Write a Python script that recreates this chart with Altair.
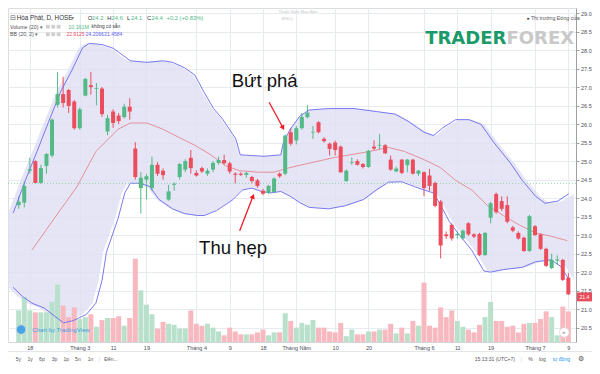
import altair as alt
import pandas as pd

W, H = 568, 334
SX, SY = W / 584.0, H / 349.0


def px(v):
    return round(v * SX, 1)


def py(v):
    return round(v * SY, 1)


GREEN = "#53b987"
RED = "#eb4d5c"
BLUE = "#5b5bf0"
ARROW = "#ee1c25"
FONT = "Liberation Sans"

# ---------------- candles (daily, HPG) ----------------
opens = [23.81, 23.88, 24.74, 25.00, 24.41, 24.87, 25.15, 26.52, 26.81, 26.92,
         26.61, 25.89, 26.77, 27.05, 26.95, 26.96, 25.80, 26.34, 26.23, 26.19,
         26.47, 25.34, 24.27, 24.50, 24.27, 24.90, 24.74, 23.96, 24.36, 24.57,
         24.77, 25.09, 24.68, 24.81, 24.66, 24.77, 24.95, 25.03, 24.94, 24.66,
         24.66, 24.63, 24.57, 24.48, 24.20, 24.14, 24.16, 24.66, 24.66, 25.78,
         25.56, 25.89, 26.19, 25.77, 26.05, 25.60, 25.47, 25.50, 25.39, 24.46,
         24.95, 25.00, 24.92, 24.84, 25.39, 25.42, 25.43, 25.04, 24.72, 25.04,
         24.89, 25.04, 24.66, 24.70, 24.61, 24.41, 23.91, 23.02, 23.28, 23.00,
         22.91, 23.32, 23.02, 23.03, 22.46, 23.47, 24.11, 23.92, 23.81, 23.21,
         23.06, 22.93, 22.57, 23.24, 23.02, 22.63, 22.11, 22.31, 22.33, 21.85]
highs = [24.05, 24.45, 25.09, 25.02, 24.90, 25.22, 26.15, 27.41, 27.28, 26.95,
         26.65, 26.45, 27.25, 27.41, 27.11, 27.00, 26.25, 26.40, 26.30, 26.55,
         26.70, 25.51, 24.70, 24.65, 25.12, 24.97, 24.80, 24.36, 24.42, 24.95,
         25.05, 25.30, 24.75, 24.85, 24.80, 25.00, 25.12, 25.17, 24.98, 24.70,
         24.70, 24.72, 24.60, 24.52, 24.25, 24.36, 24.56, 24.70, 25.72, 25.90,
         25.95, 26.30, 26.51, 25.95, 26.08, 25.65, 25.50, 25.55, 25.42, 24.78,
         25.10, 25.05, 24.95, 25.30, 25.56, 25.73, 25.46, 25.15, 24.85, 25.06,
         25.06, 25.06, 24.76, 24.72, 24.79, 24.45, 23.95, 23.10, 23.32, 23.10,
         23.15, 23.35, 23.05, 23.06, 23.08, 23.90, 24.15, 24.05, 24.05, 23.25,
         23.10, 22.96, 23.55, 23.27, 23.05, 22.66, 22.50, 22.45, 22.36, 21.98]
lows = [23.71, 23.75, 24.66, 24.40, 24.38, 24.66, 25.10, 26.45, 26.45, 26.30,
        25.85, 25.85, 26.75, 26.80, 26.51, 26.20, 25.70, 25.90, 26.00, 26.15,
        26.12, 24.50, 23.58, 23.96, 24.20, 24.60, 24.50, 23.93, 24.20, 24.50,
        24.70, 24.66, 24.58, 24.68, 24.60, 24.70, 24.90, 24.90, 24.66, 24.40,
        24.60, 24.55, 24.40, 24.28, 24.08, 24.12, 24.14, 24.55, 24.62, 25.42,
        25.45, 25.85, 26.15, 25.60, 25.75, 25.50, 25.15, 25.15, 24.68, 24.44,
        24.90, 24.88, 24.80, 24.82, 25.30, 25.32, 25.20, 24.74, 24.70, 24.65,
        24.70, 24.64, 24.60, 24.05, 24.20, 23.75, 22.37, 22.90, 22.85, 22.90,
        22.88, 22.98, 22.92, 22.44, 22.44, 23.32, 23.58, 23.65, 23.32, 23.08,
        22.88, 22.55, 22.55, 22.98, 22.60, 22.14, 22.08, 22.20, 21.76, 21.38]
closes = [23.90, 24.33, 24.78, 24.41, 24.81, 25.19, 26.12, 26.81, 26.57, 26.49,
          25.89, 26.40, 27.22, 27.00, 26.97, 26.27, 26.16, 26.03, 26.08, 26.47,
          26.34, 24.57, 24.55, 24.59, 24.90, 24.66, 24.62, 24.18, 24.39, 24.92,
          25.00, 24.81, 24.61, 24.72, 24.74, 24.95, 25.03, 24.94, 24.72, 24.63,
          24.63, 24.68, 24.46, 24.33, 24.12, 24.33, 24.53, 24.59, 25.69, 25.47,
          25.89, 26.19, 26.31, 25.79, 25.78, 25.54, 25.33, 25.30, 24.70, 24.74,
          24.97, 24.90, 24.84, 25.28, 25.34, 25.44, 25.21, 24.77, 24.80, 24.68,
          25.04, 24.66, 24.74, 24.27, 24.33, 23.79, 22.72, 22.97, 22.91, 23.03,
          23.12, 23.02, 22.96, 22.46, 23.06, 23.86, 23.62, 23.71, 23.36, 23.12,
          22.91, 22.57, 23.51, 23.00, 22.63, 22.17, 22.33, 22.34, 21.79, 21.40]
volumes = [3.78, 5.39, 3.78, 3.55, 3.55, 3.55, 4.81, 6.88, 4.36, 2.98,
           4.13, 2.75, 2.98, 3.32, 1.83, 2.64, 2.87, 2.87, 3.09, 1.95,
           2.87, 9.97, 6.19, 4.47, 3.32, 1.60, 2.41, 2.18, 2.06, 1.60,
           1.60, 3.78, 2.18, 1.95, 2.18, 1.72, 1.26, 0.80, 1.72, 1.26,
           0.92, 0.92, 0.92, 1.15, 1.49, 0.80, 1.15, 1.15, 3.44, 2.52,
           1.72, 2.29, 2.06, 2.64, 1.72, 1.72, 1.26, 1.15, 2.29, 0.69,
           1.49, 0.92, 0.92, 1.26, 1.26, 1.49, 1.49, 2.18, 1.03, 1.72,
           1.03, 2.52, 1.95, 7.11, 1.95, 1.72, 4.13, 2.98, 3.78, 2.52,
           1.83, 1.49, 1.15, 2.06, 2.98, 4.81, 2.52, 2.52, 1.83, 1.95,
           1.15, 2.18, 2.29, 2.29, 2.75, 3.67, 2.98, 0.80, 4.24, 3.67]

# ---------------- Bollinger bands (20, 2) ----------------
up_x = [-1.0, -0.5, 1.2, 3.3, 5.3, 7.6, 9.6, 11.5, 12.7, 15.0, 17.0, 18.4, 20.1,
        23.1, 26.0, 27.7, 29.9, 31.7, 33.4, 35.1, 36.8, 39.1, 39.9, 44.2, 47.2,
        47.7, 48.9, 50.6, 52.3, 55.8, 60.4, 64.4, 67.8, 70.1, 73.0, 74.7, 76.4,
        78.7, 81.1, 83.3, 85.5, 88.5, 90.7, 93.1, 94.8, 97.1, 99.1]
upper = [23.60, 23.79, 24.48, 25.26, 26.03, 26.89, 27.46, 28.06, 28.18, 28.15,
         28.05, 27.90, 27.71, 27.67, 27.71, 27.67, 27.52, 27.33, 26.86, 26.42,
         26.12, 25.60, 25.17, 25.13, 25.17, 25.52, 25.86, 26.21, 26.38, 26.42,
         26.42, 26.34, 26.27, 26.08, 25.78, 25.69, 25.90, 26.12, 26.12, 25.99,
         25.52, 24.96, 24.48, 24.05, 23.86, 23.92, 24.12]
lo_x = [-1.0, 0.7, 2.4, 4.6, 6.4, 8.1, 9.8, 12.2, 13.9, 15.0, 15.8, 17.9, 19.1,
        20.1, 21.9, 23.6, 25.3, 27.7, 29.9, 32.2, 33.4, 35.6, 38.6, 40.3, 42.0,
        43.7, 45.4, 47.2, 48.9, 50.6, 52.3, 55.8, 58.7, 62.1, 64.4, 66.6, 69.0,
        71.3, 73.0, 74.7, 75.9, 77.6, 79.3, 81.6, 83.8, 85.0, 87.3, 90.7, 93.1,
        95.9, 97.6, 99.1]
lower = [21.59, 21.34, 21.16, 21.03, 20.82, 20.63, 20.69, 20.86, 21.16, 21.77,
         22.54, 23.45, 24.14, 24.40, 24.40, 24.31, 23.96, 23.71, 23.58, 23.53,
         23.53, 23.66, 23.96, 24.22, 24.27, 24.18, 24.14, 24.18, 24.05, 23.88,
         23.75, 23.71, 23.79, 23.96, 24.22, 24.43, 24.44, 24.31, 24.22, 24.14,
         23.84, 23.36, 23.02, 22.59, 22.03, 22.00, 22.07, 22.13, 22.28, 22.33,
         22.16, 21.80]
mid_x = [2.4, 6.4, 10.5, 13.9, 17.9, 20.1, 23.1, 26.0, 29.4, 31.7, 34.6, 37.3,
         39.8, 43.2, 46.0, 47.7, 50.1, 52.8, 56.3, 59.7, 63.2, 66.6, 69.5, 73.0,
         75.9, 78.7, 81.6, 84.5, 87.3, 90.2, 93.1, 95.9, 98.8]
middle = [22.60, 23.45, 24.31, 25.26, 25.86, 26.03, 26.03, 25.86, 25.60, 25.43,
          25.17, 24.87, 24.74, 24.70, 24.70, 24.78, 24.87, 24.96, 25.08, 25.17,
          25.26, 25.37, 25.26, 25.04, 24.83, 24.48, 24.22, 23.79, 23.53, 23.27,
          23.06, 22.97, 22.85]

# ---------------- axes ----------------
tick_idx = [2, 11, 17, 23, 32, 38, 44, 50, 57, 63, 73, 79, 85, 93, 99]
tick_labels = ["18", "Tháng 3", "11", "19", "Tháng 4", "9", "18", "Tháng Năm",
               "10", "20", "Tháng 6", "11", "19", "Tháng 7", "9"]
price_ticks = [20.5, 21.0, 21.5, 22.0, 22.5, 23.0, 23.5, 24.0, 24.5, 25.0,
               25.5, 26.0, 26.5, 27.0, 27.5, 28.0, 28.5, 29.0]
last_close = 21.4
ref_line = 24.4

# annotations (data coordinates: candle index, price)
ann_text = ["Bứt phá", "Thu hẹp"]
ann_x = [44.3, 38.6]
ann_y = [27.01, 22.50]
arrow_x1 = [45.1, 39.8]
arrow_y1 = [26.59, 23.12]
arrow_x2 = [47.6, 42.2]
arrow_y2 = [25.90, 24.05]
arrow_angle = [152, 22]

# ---------------- build ----------------
xs = alt.Scale(domain=[-1.03, 99.48], nice=False, zero=False)
ys = alt.Scale(domain=[20.112, 29.137], nice=False, zero=False)

cdf = pd.DataFrame({"i": list(range(len(opens))), "o": opens, "h": highs,
                    "l": lows, "c": closes, "v": volumes})
cdf["dir"] = ["up" if c >= o else "down" for o, c in zip(opens, closes)]

poly = pd.DataFrame({"x": up_x + lo_x[::-1], "y": upper + lower[::-1]})
poly["o"] = list(range(len(poly)))

label_expr = "[" + ",".join("'%s'" % t for t in tick_labels) + "][indexof([" + \
    ",".join(str(t) for t in tick_idx) + "], datum.value)]"

x_axis = alt.Axis(values=tick_idx, labelExpr=label_expr, grid=True,
                  gridColor="#e6ebf0", ticks=False, domainColor="#d3d7db",
                  labelFontSize=5.5, labelColor="#4a4e57", labelPadding=3,
                  title=None, labelFont=FONT, labelOverlap=False)
y_axis = alt.Axis(orient="right", values=price_ticks, format=".1f", grid=True,
                  gridColor="#e6ebf0", tickSize=3, tickColor="#9da1a6",
                  domainColor="#9da1a6", labelFontSize=5.5, labelColor="#4a4e57",
                  labelPadding=1.5, title=None, labelFont=FONT, labelOverlap=False)


def X(f):
    return alt.X(f, scale=xs, axis=x_axis)


def Y(f):
    return alt.Y(f, scale=ys, axis=y_axis)


fill = alt.Chart(poly).mark_line(fill="#dedef3", fillOpacity=0.8, strokeWidth=0,
                                 clip=True).encode(
    x=alt.X("x:Q", scale=xs, axis=None),
    y=alt.Y("y:Q", scale=ys, axis=None),
    order="o:Q")

vol = alt.Chart(cdf).mark_bar(size=5.0, clip=True).encode(
    x=alt.X("i:Q", scale=xs, axis=None),
    y=alt.Y("v:Q", scale=alt.Scale(domain=[0, 40], nice=False), axis=None),
    color=alt.Color("dir:N", scale=alt.Scale(domain=["up", "down"],
                                             range=["#b8e0cb", "#f7b9bf"]),
                    legend=None))

dir_color = alt.Color("dir:N", scale=alt.Scale(domain=["up", "down"],
                                               range=[GREEN, RED]), legend=None)

wicks = alt.Chart(cdf).mark_rule(strokeWidth=1).encode(
    x=X("i:Q"), y=Y("l:Q"), y2="h:Q", color=dir_color)
bodies = alt.Chart(cdf).mark_bar(size=4).encode(
    x=X("i:Q"), y=Y("o:Q"), y2="c:Q", color=dir_color)

up_df = pd.DataFrame({"x": up_x, "y": upper})
lo_df = pd.DataFrame({"x": lo_x, "y": lower})
mid_df = pd.DataFrame({"x": mid_x, "y": middle})


def band(df, color, op):
    return alt.Chart(df).mark_line(color=color, strokeWidth=1, opacity=op,
                                   clip=True).encode(x=X("x:Q"), y=Y("y:Q"))


ref = alt.Chart(pd.DataFrame({"p": [ref_line]})).mark_rule(
    color="#8fcfac", strokeDash=[1, 2], strokeWidth=1).encode(y=Y("p:Q"))

arr_df = pd.DataFrame({"x1": arrow_x1, "y1": arrow_y1, "x2": arrow_x2,
                       "y2": arrow_y2, "a": arrow_angle})
arrows = alt.Chart(arr_df).mark_rule(color=ARROW, strokeWidth=1.3).encode(
    x=X("x1:Q"), y=Y("y1:Q"), x2="x2:Q", y2="y2:Q")
heads = alt.Chart(arr_df).mark_point(shape="triangle-up", filled=True,
                                     color=ARROW, opacity=1, size=30).encode(
    x=X("x2:Q"), y=Y("y2:Q"), angle=alt.Angle("a:Q", scale=None))

ann_df = pd.DataFrame({"t": ann_text, "x": ann_x, "y": ann_y})
ann = alt.Chart(ann_df).mark_text(fontSize=18.5, font=FONT, color="#111111",
                                  align="center", baseline="alphabetic").encode(
    x=X("x:Q"), y=Y("y:Q"), text="t:N")

tag_df = pd.DataFrame({"p": [last_close - 0.07], "hi": [last_close + 0.05],
                       "lo": [last_close - 0.19], "t": ["%.1f" % last_close]})
tag_box = alt.Chart(tag_df).mark_rect(color=RED).encode(
    x=alt.value(W + 1), x2=alt.value(W + 16), y=Y("hi:Q"), y2="lo:Q")
tag_txt = alt.Chart(tag_df).mark_text(color="white", fontSize=5, font=FONT,
                                      align="left", baseline="middle").encode(
    x=alt.value(W + 3.5), y=Y("p:Q"), text="t:N")

rest = alt.layer(wicks, band(up_df, "#6a6af0", 0.9), band(lo_df, "#6a6af0", 0.9),
                 band(mid_df, "#e4868e", 0.9), ref, bodies,
                 arrows, heads, ann, tag_box, tag_txt)

# ---------------- header / footer texts (pixel positions) ----------------
texts = [
    (2, 10, "⊟", "#666666", 6.5), (9, 10, "Hòa Phát, D, HOSE", "#333333", 6.3),
    (65, 10, "▾", "#888888", 5.5),
    (82, 10, "O", "#333333", 5.8), (86.5, 10, "24.2", GREEN, 5.8),
    (102, 10, "H", "#333333", 5.8), (106.5, 10, "24.6", GREEN, 5.8),
    (122.5, 10, "L", "#333333", 5.8), (126.5, 10, "24.1", GREEN, 5.8),
    (143, 10, "C", "#333333", 5.8), (147.5, 10, "24.4", GREEN, 5.8),
    (163, 10, "+0.2 (+0.83%)", GREEN, 5.8),
    (2, 19.5, "Volume (20) ▾", "#555555", 5.3),
    (62, 19.5, "10.161M", GREEN, 5.3), (86, 19.5, "không có sẵn", "#333333", 4.8),
    (2, 27.5, "BB (20, 2) ▾", "#555555", 5.3),
    (60, 27.5, "22.9125", RED, 5.0), (80, 27.5, "24.2066", BLUE, 5.0),
    (99, 27.5, "21.4584", BLUE, 5.0),
    (278, 4, "Thuật Toán Mua Bán", "#c4c4c4", 4.2),
    (281, 11, "(ESC)", "#c4c4c4", 4.2),
    (533, 10, "● Thị trường Đóng cửa", "#555555", 5.2),
    (25, 336, "Chart by TradingView", "#3d9fe3", 6),
    (8, 367, "5y", "#555555", 5), (20, 367, "1y", "#555555", 5),
    (32, 367, "6p", "#555555", 5), (45, 367, "3p", "#555555", 5),
    (57, 367, "1p", "#555555", 5), (69, 367, "5n", "#555555", 5),
    (82, 367, "1n", "#555555", 5), (93, 367, "|", "#d0d0d0", 6),
    (99, 367, "Đến...", "#555555", 5),
    (480, 367, "15:13:31 (UTC+7)", "#555555", 5), (527, 367, "|", "#d0d0d0", 6),
    (535, 367, "%", "#555555", 5), (546, 367, "log", "#555555", 5),
    (560, 367, "tự động", "#2196f3", 5), (586, 367, "⚙", "#555555", 6.5),
    (569.5, 339, "»", "#777777", 6),
]
tdf = pd.DataFrame({"x": [px(t[0]) for t in texts], "y": [py(t[1]) for t in texts],
                    "t": [t[2] for t in texts], "c": [t[3] for t in texts],
                    "s": [t[4] for t in texts]})
ptext = alt.Chart(tdf).mark_text(align="left", baseline="middle", font=FONT).encode(
    x=alt.X("x:Q", scale=None, axis=None), y=alt.Y("y:Q", scale=None, axis=None),
    text="t:N", color=alt.Color("c:N", scale=None),
    size=alt.Size("s:Q", scale=None))

logo = pd.DataFrame({"x": [px(429), px(512.5)], "y": [py(32.5), py(32.5)],
                     "t": ["TRADER", "FOREX"], "c": ["#1a9a68", "#c9c9c9"]})
btext = alt.Chart(logo).mark_text(align="left", baseline="middle",
                                  font="DejaVu Sans", fontWeight="bold",
                                  fontSize=18).encode(
    x=alt.X("x:Q", scale=None, axis=None), y=alt.Y("y:Q", scale=None, axis=None),
    text="t:N", color=alt.Color("c:N", scale=None))

sq = pd.DataFrame({"x": [px(41), px(46.5), px(52), px(41), px(46.5), px(52)],
                   "y": [py(19.5)] * 3 + [py(27.5)] * 3})
squares = alt.Chart(sq).mark_square(size=14, color="#cfcfcf", opacity=1).encode(
    x=alt.X("x:Q", scale=None, axis=None), y=alt.Y("y:Q", scale=None, axis=None))

circ = pd.DataFrame({"x": [px(13.5), px(572)], "y": [py(336), py(339)],
                     "f": ["#4aa5e8", "#ffffff"]})
circles = alt.Chart(circ).mark_point(filled=True, size=90, stroke="#d8d8d8",
                                     strokeWidth=0.8, opacity=1).encode(
    x=alt.X("x:Q", scale=None, axis=None), y=alt.Y("y:Q", scale=None, axis=None),
    fill=alt.Fill("f:N", scale=None))

sep = alt.Chart(pd.DataFrame({"k": [1]})).mark_rule(color="#e0e3e6").encode(
    x=alt.value(0), x2=alt.value(W + 16), y=alt.value(py(359)))

chart = alt.layer(fill, vol, rest, sep, squares, circles, ptext, btext).resolve_scale(
    x="independent", y="independent", color="independent", size="independent",
    fill="independent"
).properties(
    width=W, height=H,
    autosize=alt.AutoSizeParams(type="none"),
    padding={"left": 0, "top": 0, "right": 16, "bottom": 24},
    background="white",
).configure_view(strokeWidth=0).configure(font=FONT)

chart.save("out.html", embed_options={"renderer": "svg", "actions": False})
